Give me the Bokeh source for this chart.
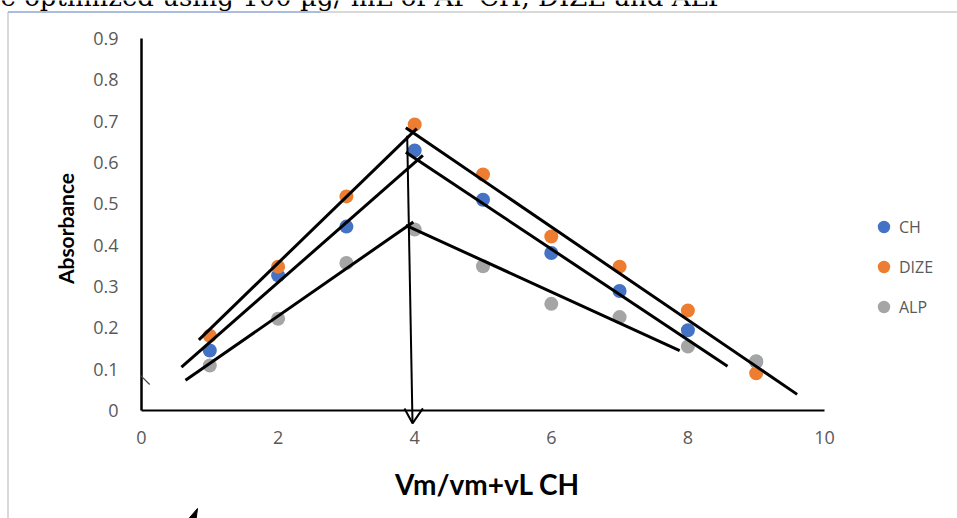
from bokeh.plotting import figure
from bokeh.models import (Range1d, FixedTicker, Legend, LegendItem, Label, LinearAxis)
from bokeh.embed import file_html
from bokeh.resources import INLINE

# ---- data ----
x_vals = [1, 2, 3, 4, 5, 6, 7, 8, 9]
ch_vals = [0.145, 0.327, 0.445, 0.629, 0.510, 0.381, 0.289, 0.194, 0.118]
dize_vals = [0.181, 0.348, 0.518, 0.692, 0.571, 0.421, 0.348, 0.242, 0.090]
alp_vals = [0.109, 0.222, 0.357, 0.438, 0.349, 0.258, 0.226, 0.155, 0.119]

x_ticks = [0, 2, 4, 6, 8, 10]
y_ticks = [0, 0.1, 0.2, 0.3, 0.4, 0.5, 0.6, 0.7, 0.8, 0.9]

# hand-drawn annotation lines (data coordinates)
trend_x0 = [0.84, 3.87, 0.585, 3.87, 0.644, 3.87]
trend_y0 = [0.171, 0.684, 0.105, 0.625, 0.073, 0.448]
trend_x1 = [4.03, 9.60, 4.12, 8.58, 3.98, 7.88]
trend_y1 = [0.682, 0.039, 0.617, 0.107, 0.456, 0.145]

arrow_x = [3.89, 3.968]
arrow_y = [0.665, -0.031]
arrow_head_x = [3.85, 3.968, 4.12]
arrow_head_y = [0.005, -0.031, 0.005]

tick_mark_x = [-0.015, 0.12]
tick_mark_y = [0.085, 0.063]

wedge_x = [0.69, 0.82, 0.80]
wedge_y = [-0.262, -0.237, -0.262]

top_text = "e optimized using 100 µg/ mL of AP CH, DIZE  and   ALP"
x_title = "Vm/vm+vL CH"
y_title = "Absorbance"

BLUE = "#4472C4"
ORANGE = "#ED7D31"
GRAY = "#A5A5A5"
TXT = "#595959"

W, H = 957, 518
X0PX, Y0PX = 141.0, 410.0     # pixel position of the data origin
PX_X, PX_Y = 68.3, 413.3      # pixels per data unit


def dx(px):
    return (px - X0PX) / PX_X


def dy(py):
    return (Y0PX - py) / PX_Y


p = figure(width=W, height=H, output_backend="svg", toolbar_location=None,
           x_axis_type=None, y_axis_type=None,
           x_range=Range1d(dx(0), dx(W)), y_range=Range1d(dy(H), dy(0)),
           min_border_left=0, min_border_right=0,
           min_border_top=0, min_border_bottom=0)
p.outline_line_color = None
p.background_fill_color = "white"
p.border_fill_color = "white"

xaxis = LinearAxis(fixed_location=0, ticker=FixedTicker(ticks=x_ticks))
yaxis = LinearAxis(fixed_location=0, ticker=FixedTicker(ticks=y_ticks),
                   major_label_overrides={0: "0"})
for ax in (xaxis, yaxis):
    ax.axis_line_color = None
    ax.major_tick_line_color = None
    ax.minor_tick_line_color = None
    ax.major_tick_out = 0
    ax.major_tick_in = 0
    ax.minor_tick_out = 0
    ax.major_label_text_font = "Open Sans"
    ax.major_label_text_font_size = "18px"
    ax.major_label_text_color = TXT
xaxis.major_label_standoff = 20
yaxis.major_label_standoff = 23
p.add_layout(xaxis, "below")
p.add_layout(yaxis, "left")

# axis titles
p.add_layout(Label(x=dx(487), y=dy(483), text=x_title,
                   text_font="Lato", text_font_style="bold", text_font_size="28px",
                   text_align="center", text_baseline="middle", text_color="black"))
p.add_layout(Label(x=dx(65), y=dy(228), text=y_title,
                   angle=90, angle_units="deg",
                   text_font="Lato", text_font_style="bold", text_font_size="21px",
                   text_align="center", text_baseline="middle", text_color="black"))

# page decorations: chart-area borders
p.line([dx(7.5), dx(7.5)], [dy(11.5), dy(H + 5)], line_color="#d9d9d9", line_width=2)
p.line([dx(7.5), dx(W + 5)], [dy(11.5), dy(11.5)], line_color="#d9d9d9", line_width=2)
p.line([dx(7.5), dx(320)], [dy(11.5), dy(11.5)], line_color="#7f9fe0", line_width=1.2)

# axis lines drawn as in the picture
p.line([0, 10], [0, 0], line_color="black", line_width=2)
p.line([0, 0], [0, 0.9], line_color="black", line_width=2.5)

# series
r_ch = p.scatter(x_vals, ch_vals, size=14, fill_color=BLUE, line_color=None)
r_dize = p.scatter(x_vals, dize_vals, size=14, fill_color=ORANGE, line_color=None)
r_alp = p.scatter(x_vals, alp_vals, size=14, fill_color=GRAY, line_color=None)

# hand-drawn lines
p.segment(trend_x0, trend_y0, trend_x1, trend_y1, line_color="black", line_width=3)
p.line(arrow_x, arrow_y, line_color="black", line_width=2)
p.line(arrow_head_x, arrow_head_y, line_color="black", line_width=2)
p.line(tick_mark_x, tick_mark_y, line_color="#444444", line_width=1.2)
p.patch(wedge_x, wedge_y, fill_color="black", line_color="black")

legend = Legend(items=[LegendItem(label="CH", renderers=[r_ch]),
                       LegendItem(label="DIZE", renderers=[r_dize]),
                       LegendItem(label="ALP", renderers=[r_alp])],
                location=(868, 196), orientation="vertical")
legend.border_line_color = None
legend.background_fill_alpha = 0
legend.padding = 0
legend.margin = 0
legend.glyph_width = 31
legend.glyph_height = 31
legend.label_height = 14
legend.spacing = 9
legend.label_standoff = -2
legend.label_text_font = "Open Sans"
legend.label_text_font_size = "16px"
legend.label_text_color = TXT
p.add_layout(legend)

# cropped line of text from the page above the chart
p.add_layout(Label(x=0, y=H + 4, x_units="screen", y_units="screen",
                   text=top_text, text_font="DejaVu Serif", text_font_size="26px",
                   text_color="black", text_baseline="alphabetic"))

open("out.html", "w").write(file_html(p, INLINE))
